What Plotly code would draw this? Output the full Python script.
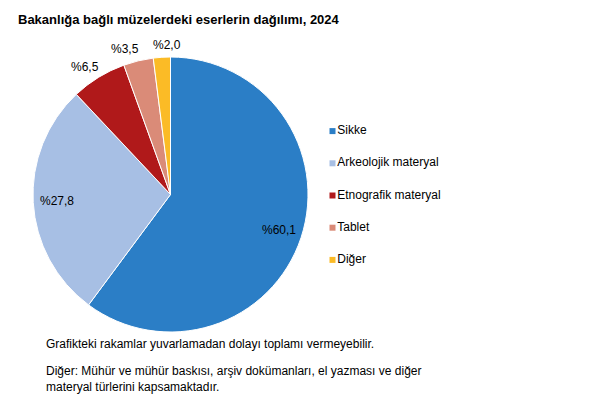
import math
import plotly.graph_objects as go

categories = ["Sikke", "Arkeolojik materyal", "Etnografik materyal", "Tablet", "Diğer"]
values = [60.1, 27.8, 6.5, 3.5, 2.0]
labels_txt = ["%60,1", "%27,8", "%6,5", "%3,5", "%2,0"]
colors = ["#2b7ec6", "#a7bfe4", "#b0191a", "#da8b78", "#fbbb26"]
label_inside = [True, True, False, False, False]

FONT = "Liberation Sans, Arial, sans-serif"
W, H = 605, 390  # page body margin of 8px brings this to 613x398

# pie geometry (pixels in figure coordinates)
cx, cy, R = 162.5, 186.5, 137.5
dom_x = [(cx - R) / W, (cx + R) / W]
dom_y = [1 - (cy + R) / H, 1 - (cy - R) / H]
# label axis pair: same centre/scale as the pie, but extended range
EX, EY = 1.1, 1.2
lab_dom_x = [(cx - EX * R) / W, (cx + EX * R) / W]
lab_dom_y = [1 - (cy + EY * R) / H, 1 - (cy - EY * R) / H]

fig = go.Figure()
fig.add_trace(go.Pie(
    labels=categories, values=values, textinfo="none",
    marker=dict(colors=colors, line=dict(color="white", width=1)),
    sort=False, direction="clockwise", rotation=0,
    domain=dict(x=dom_x, y=dom_y),
    showlegend=False, hoverinfo="label+percent",
))

# custom legend
fig.add_trace(go.Scatter(
    x=[0] * len(categories), y=categories, mode="markers+text",
    text=categories, textposition="middle right",
    marker=dict(symbol="square", size=6, color=colors),
    textfont=dict(size=12, family=FONT, color="black"),
    cliponaxis=False, showlegend=False, hoverinfo="skip",
))

# data labels at each slice's mid angle (in pie-radius units),
# outside labels pushed out by half their width, then de-overlapped
CHAR_W, TXT_H, SEP = 7.0 / R, 14.0 / R, 14.0 / R
total = sum(values)
acc = 0.0
pos = []
for v, t, ins in zip(values, labels_txt, label_inside):
    ang = math.radians((acc + v / 2) / total * 360.0)
    acc += v
    rr = 0.83 if ins else 1.09
    x, y = rr * math.sin(ang), rr * math.cos(ang)
    if not ins:
        x += math.sin(ang) * len(t) * CHAR_W / 2
    pos.append([x, y])

for i in range(len(pos) - 1):
    j = i + 1
    if label_inside[i] or label_inside[j]:
        continue
    need = (len(labels_txt[i]) + len(labels_txt[j])) * CHAR_W / 2 + SEP
    dx = pos[j][0] - pos[i][0]
    if abs(pos[j][1] - pos[i][1]) < TXT_H and abs(dx) < need:
        push = (need - abs(dx)) / 2
        pos[i][0] -= push
        pos[j][0] += push

annotations = [dict(text=t, x=p[0], y=p[1], xref="x2", yref="y2", showarrow=False,
                    xanchor="center", yanchor="middle",
                    font=dict(size=12, family=FONT, color="black"))
               for t, p in zip(labels_txt, pos)]

annotations += [
    dict(text="Grafikteki rakamlar yuvarlamadan dolayı toplamı vermeyebilir.",
         x=36 / W, y=1 - 336 / H, xref="paper", yref="paper", xanchor="left",
         yanchor="middle", showarrow=False, align="left", font=dict(size=12)),
    dict(text="Diğer: Mühür ve mühür baskısı, arşiv dokümanları, el yazması ve diğer<br>materyal türlerini kapsamaktadır.",
         x=36 / W, y=1 - 370.5 / H, xref="paper", yref="paper", xanchor="left",
         yanchor="middle", showarrow=False, align="left", font=dict(size=12)),
]

fig.update_layout(
    width=W, height=H,
    margin=dict(l=0, r=0, t=0, b=0),
    paper_bgcolor="white", plot_bgcolor="rgba(0,0,0,0)",
    font=dict(family=FONT, size=12, color="black"),
    title=dict(text="<b>Bakanlığa bağlı müzelerdeki eserlerin dağılımı, 2024</b>",
               x=10 / W, xanchor="left", y=1 - 11 / H, yanchor="middle",
               font=dict(size=13, family=FONT)),
    xaxis=dict(visible=False, domain=[324.5 / W, 0.98], range=[0, 1]),
    yaxis=dict(visible=False, domain=[1 - 268 / H, 1 - 107 / H],
               range=[len(categories) - 0.5, -0.5], type="category"),
    xaxis2=dict(visible=False, domain=lab_dom_x, range=[-EX, EX], anchor="y2"),
    yaxis2=dict(visible=False, domain=lab_dom_y, range=[-EY, EY], anchor="x2"),
    annotations=annotations,
)
fig.write_html("out.html")
